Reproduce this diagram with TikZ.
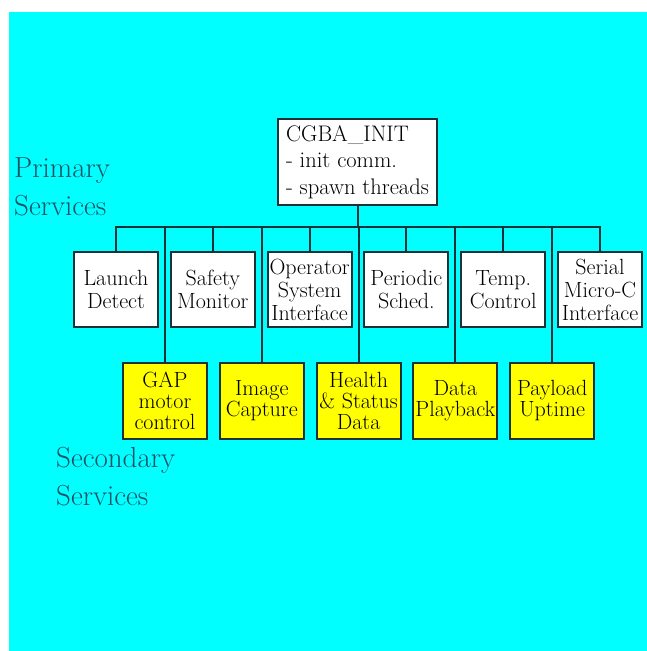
\documentclass[tikz,border=0pt]{standalone}
\usepackage{fontspec}
\usetikzlibrary{positioning}
\definecolor{skycyan}{RGB}{0,255,255}
\definecolor{inkline}{RGB}{25,50,55}
\definecolor{labelteal}{RGB}{30,80,100}
\definecolor{boxyellow}{RGB}{255,255,0}
\tikzset{
	primbox/.style={draw=inkline, line width=2pt, fill=white, minimum width=84pt, minimum height=75pt, inner sep=0pt, align=center, font=\fontsize{22}{23}\selectfont},
	secbox/.style={primbox, fill=boxyellow, minimum height=76pt, font=\fontsize{22}{21}\selectfont},
	initbox/.style={primbox, minimum width=159pt, minimum height=86pt, align=left, font=\fontsize{22.5}{26.5}\selectfont},
	tree/.style={draw=inkline, line width=2pt},
	sidelabel/.style={text=labelteal, align=left, anchor=north west, inner sep=0pt, font=\fontsize{29}{38}\selectfont}
}
\begin{document}
\begin{tikzpicture}[x=1pt, y=-1pt]
			%%%%% START %%%%%
			
			\path[fill=white, use as bounding box] (0, 0) rectangle (647, 651);
			\fill[skycyan] (9, 12) rectangle (647, 651);
			
			\node[sidelabel] (primlabel) at (14, 157) {Primary\\Services};
			\node[sidelabel] (seclabel) at (56, 447) {Secondary\\Services};
			
			\node[initbox] (init) at (357.5, 162) {CGBA\_INIT\\- init comm.\\- spawn threads};
			\coordinate (bus) at (357.5, 227);
			
			\node[primbox] (launch) at (116, 289.5) {Launch\\Detect};
			\node[primbox] (safety) at (212.8, 289.5) {Safety\\Monitor};
			\node[primbox] (operator) at (309.6, 289.5) {Operator\\System\\Interface};
			\node[primbox] (periodic) at (406.4, 289.5) {Periodic\\Sched.};
			\node[primbox] (temp) at (503.2, 289.5) {Temp.\\Control};
			\node[primbox] (serial) at (600, 289.5) {Serial\\Micro-C\\Interface};
			
			\node[secbox] (gap) at (165, 401) {GAP\\motor\\control};
			\node[secbox] (image) at (261.8, 401) {Image\\Capture};
			\node[secbox] (health) at (358.6, 401) {Health\\\& Status\\Data};
			\node[secbox] (playback) at (455.4, 401) {Data\\Playback};
			\node[secbox] (uptime) at (552.2, 401) {Payload\\Uptime};
			
			\draw[tree] (init.south) -- (bus);
			
			\draw[tree] (launch.north) |- (bus);
			\draw[tree] (safety.north) |- (bus);
			\draw[tree] (operator.north) |- (bus);
			\draw[tree] (periodic.north) |- (bus);
			\draw[tree] (temp.north) |- (bus);
			\draw[tree] (serial.north) |- (bus);
			
			\draw[tree] (gap.north) |- (bus);
			\draw[tree] (image.north) |- (bus);
			\draw[tree] (health.north) |- (bus);
			\draw[tree] (playback.north) |- (bus);
			\draw[tree] (uptime.north) |- (bus);
			
			%%%%% END %%%%%
\end{tikzpicture}
\end{document}
